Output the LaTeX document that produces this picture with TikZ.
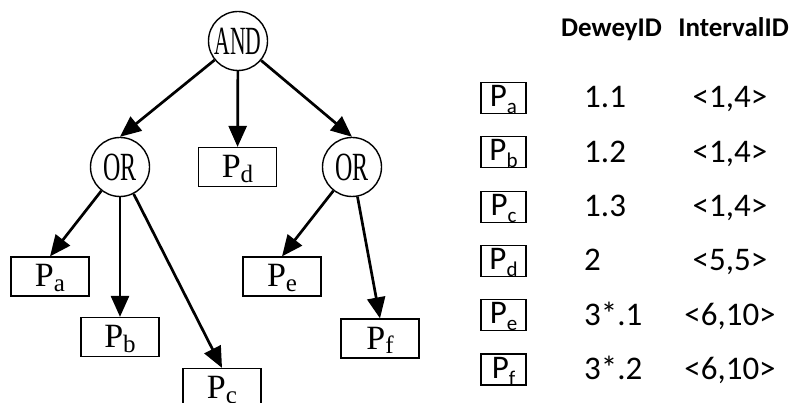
\documentclass[tikz,border=0pt]{standalone}
\usepackage{fontspec}
\setmainfont{Liberation Serif}
\newfontfamily\tabfont{Carlito}
\usetikzlibrary{arrows.meta}

% operator labels are set in a narrow serif
\newcommand\opname[2]{\scalebox{#1}[1]{\fontsize{40}{40}\selectfont #2}}
% predicate labels in the tree
\newcommand\leafname[1]{\fontsize{34}{34}\selectfont P\raisebox{-5pt}{\fontsize{25}{25}\selectfont #1}}
% predicate labels in the table
\newcommand\tabname[1]{\tabfont\fontsize{33}{33}\selectfont P\raisebox{-7pt}{\fontsize{21}{21}\selectfont #1}}

\tikzset{
  opnode/.style={circle, draw, line width=1.4pt, minimum size=59pt, inner sep=0pt},
  leafnode/.style={rectangle, draw, line width=1.2pt, minimum width=78pt,
                   inner sep=0pt, text height=30pt, text depth=9pt},
  tabbox/.style={rectangle, draw, line width=1.1pt, minimum width=45pt,
                 inner sep=0pt, text height=24pt, text depth=7pt},
  tabtext/.style={inner sep=0pt, font=\tabfont\fontsize{33}{33}\selectfont},
  headtext/.style={inner sep=0pt, font=\tabfont\bfseries\fontsize{27}{27}\selectfont},
  arr/.style={line width=2.7pt, -{Triangle[length=21pt,width=18pt]}}
}

\begin{document}
\begin{tikzpicture}[x=1pt,y=-1pt]
  \useasboundingbox (0,0) rectangle (790,403);
  \clip (0,0) rectangle (790,403);

  % tree
  \node[opnode] (and) at (238,41) {\opname{0.54}{AND}};
  \node[opnode] (orl) at (120,167) {\opname{0.6}{OR}};
  \node[opnode] (orr) at (352,167) {\opname{0.6}{OR}};
  \node[leafnode] (pd) at (237.5,167) {\leafname{d}};
  \node[leafnode] (pa) at (50,276.5) {\leafname{a}};
  \node[leafnode] (pb) at (120,337) {\leafname{b}};
  \node[leafnode] (pc) at (222,388) {\leafname{c}};
  \node[leafnode] (pe) at (282,276.5) {\leafname{e}};
  \node[leafnode] (pf) at (380,338.5) {\leafname{f}};

  \draw[arr] (and) -- (orl.north);
  \draw[arr] (and) -- (pd);
  \draw[arr] (and) -- (orr.north);
  \draw[arr] (orl) -- (pa.north);
  \draw[arr] (orl) -- (pb);
  \draw[arr] (orl) -- (pc.north);
  \draw[arr] (orr) -- (pe.north);
  \draw[arr] (orr) -- (pf.north);

  % table of identifiers
  \node[headtext, anchor=base west] (hdewey) at (561,37) {DeweyID};
  \node[headtext, anchor=base east] (hinterval) at (789,37) {IntervalID};

  \foreach \i/\s/\d/\v in {0/a/1.1/{<1,4>}, 1/b/1.2/{<1,4>}, 2/c/1.3/{<1,4>},
                           3/d/2/{<5,5>}, 4/e/3*.1/{<6,10>}, 5/f/3*.2/{<6,10>}} {
    \pgfmathsetmacro\yc{98+54.3*\i}
    \node[tabbox] (t\s) at (503.5,\yc) {\tabname{\s}};
    \node[tabtext, anchor=base west] (dw\s) at (584,\yc+10) {\d};
    \node[tabtext, anchor=base] (iv\s) at (730,\yc+10) {\v};
  }
\end{tikzpicture}
\end{document}
